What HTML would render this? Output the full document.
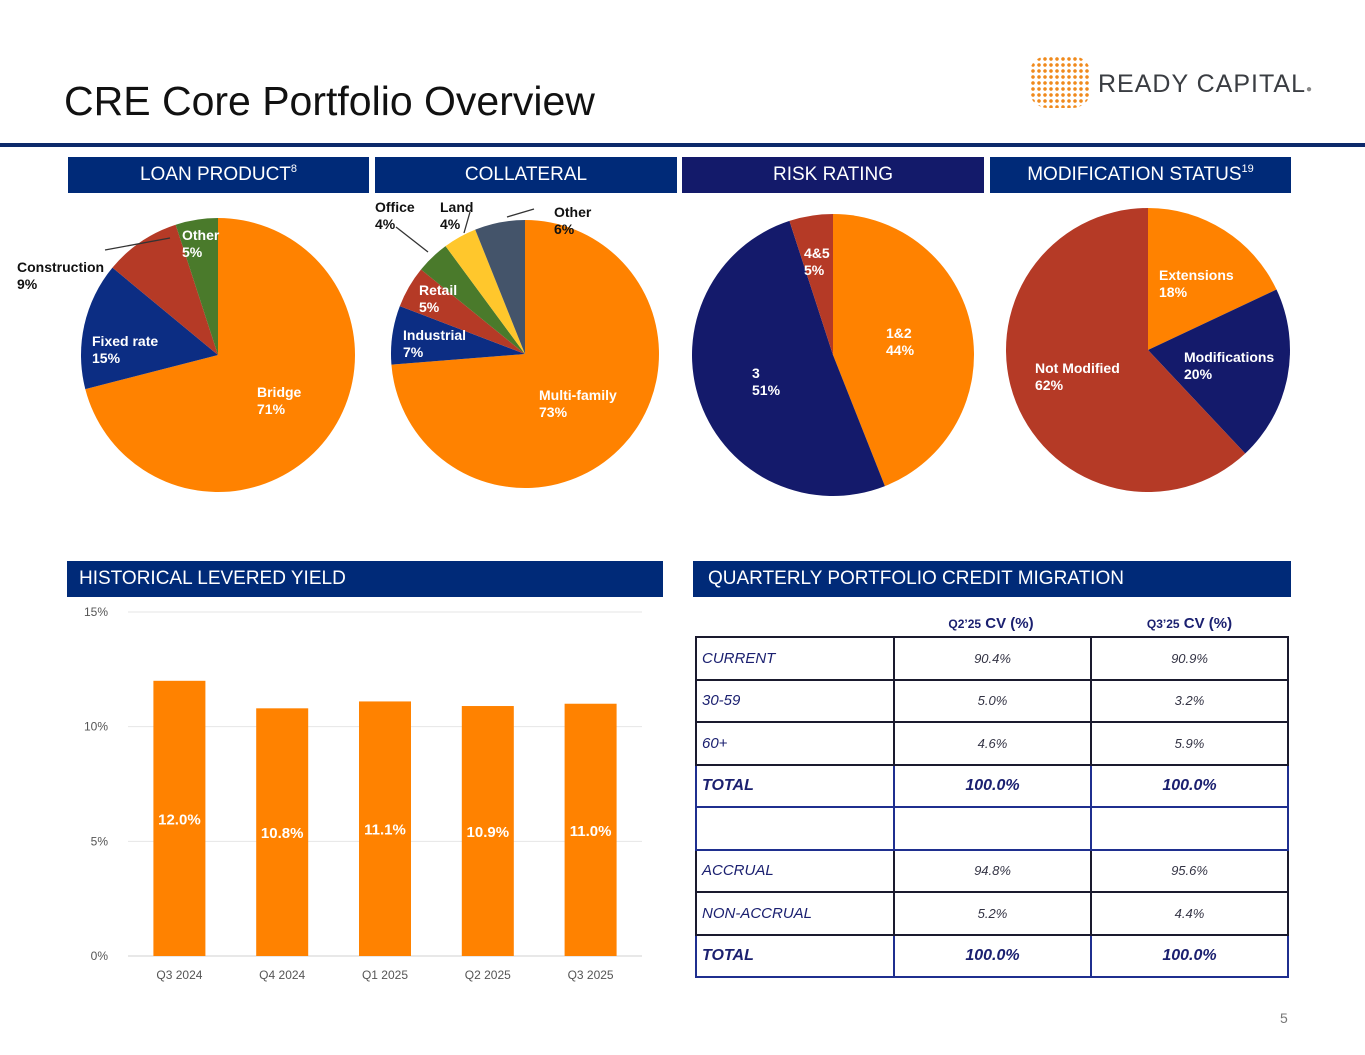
<!DOCTYPE html>
<html><head><meta charset="utf-8"><style>
body{margin:0;width:1365px;height:1055px;background:#fff;font-family:"Liberation Sans",Arial,sans-serif;position:relative;overflow:hidden}
.hdr{position:absolute;height:36px;color:#fff;font-size:19px;line-height:36px;background:#002a78}
.hdr sup{font-size:11px;line-height:0;vertical-align:8px}
.c{text-align:center}
table{border-collapse:collapse;position:absolute;left:695px;top:636px;width:594px}
tr{height:42.5px}
td{border:2px solid #1a1a2e;font-style:italic;color:#1b2070;font-size:15px;padding:0 5px}
td.v{text-align:center;font-size:13px;color:#334}
tr.t td{font-weight:bold;font-size:16px;color:#1b2070;border-color:#1f2f8f}
</style></head><body>
<div style="position:absolute;left:64px;top:78px;font-size:41px;color:#111">CRE Core Portfolio Overview</div>
<div style="position:absolute;left:1030px;top:56px;width:60px;height:52px;background:radial-gradient(circle,#f08a1c 1.6px,transparent 2px) 0 0/6px 6px;border-radius:30%"></div>
<div style="position:absolute;left:1098px;top:70px;font-size:25px;color:#3a3d42;letter-spacing:1px">READY CAPITAL<span style="font-size:10px;color:#888">●</span></div>
<div style="position:absolute;left:0;top:143px;width:1365px;height:4px;background:#0d2a6b"></div>
<div class="hdr c" style="left:68px;top:157px;width:301px">LOAN PRODUCT<sup>8</sup></div>
<div class="hdr c" style="left:375px;top:157px;width:302px">COLLATERAL</div>
<div class="hdr c" style="left:682px;top:157px;width:302px;background:#131a6a">RISK RATING</div>
<div class="hdr c" style="left:990px;top:157px;width:301px">MODIFICATION STATUS<sup>19</sup></div>
<div class="hdr" style="left:67px;top:561px;width:584px;padding-left:12px">HISTORICAL LEVERED YIELD</div>
<div class="hdr" style="left:693px;top:561px;width:583px;padding-left:15px">QUARTERLY PORTFOLIO CREDIT MIGRATION</div>
<svg id="pies" width="1365" height="1055" style="position:absolute;left:0;top:0" font-family="Liberation Sans, Arial, sans-serif" font-weight="bold" font-size="14"></svg>
<svg id="bars" width="1365" height="1055" style="position:absolute;left:0;top:0" font-family="Liberation Sans, Arial, sans-serif"></svg>
<div style="position:absolute;left:892px;top:615px;width:198px;text-align:center;font-weight:bold;color:#1b2070;font-size:15px"><span style="font-size:12px">Q2’25</span> CV (%)</div>
<div style="position:absolute;left:1090px;top:615px;width:199px;text-align:center;font-weight:bold;color:#1b2070;font-size:15px"><span style="font-size:12px">Q3’25</span> CV (%)</div>
<table>
<tr><td style="width:186px">CURRENT</td><td class="v">90.4%</td><td class="v">90.9%</td></tr>
<tr><td>30-59</td><td class="v">5.0%</td><td class="v">3.2%</td></tr>
<tr><td>60+</td><td class="v">4.6%</td><td class="v">5.9%</td></tr>
<tr class="t"><td>TOTAL</td><td class="v" style="font-size:16px;color:#1b2070">100.0%</td><td class="v" style="font-size:16px;color:#1b2070">100.0%</td></tr>
<tr class="t"><td></td><td></td><td></td></tr>
<tr><td>ACCRUAL</td><td class="v">94.8%</td><td class="v">95.6%</td></tr>
<tr><td>NON-ACCRUAL</td><td class="v">5.2%</td><td class="v">4.4%</td></tr>
<tr class="t"><td>TOTAL</td><td class="v" style="font-size:16px;color:#1b2070">100.0%</td><td class="v" style="font-size:16px;color:#1b2070">100.0%</td></tr>
</table>
<div style="position:absolute;left:1280px;top:1010px;font-size:14px;color:#777">5</div>
<script>
const loanCats=["Bridge","Fixed rate","Construction","Other"];
const loanVals=[71,15,9,5];
const collCats=["Multi-family","Industrial","Retail","Office","Land","Other"];
const collVals=[73,7,5,4,4,6];
const riskCats=["1&2","3","4&5"];
const riskVals=[44,51,5];
const modCats=["Extensions","Modifications","Not Modified"];
const modVals=[18,20,62];
const yieldCats=["Q3 2024","Q4 2024","Q1 2025","Q2 2025","Q3 2025"];
const yieldVals=[12.0,10.8,11.1,10.9,11.0];
const yTicks=[0,5,10,15];
const NS="http://www.w3.org/2000/svg";
function mk(p,t,a){const e=document.createElementNS(NS,t);for(const k in a)e.setAttribute(k,a[k]);p.appendChild(e);return e;}
const pies=document.getElementById('pies');
const sliceLayer=mk(pies,'g',{});
const labelLayer=mk(pies,'g',{});
function pie(name,cats,vals,cx,cy,r,colors,labels){
  const tot=vals.reduce((a,b)=>a+b,0);let a0=0;
  vals.forEach((v,i)=>{
    const a1=a0+v/tot*2*Math.PI;
    const x0=cx+r*Math.sin(a0),y0=cy-r*Math.cos(a0),x1=cx+r*Math.sin(a1),y1=cy-r*Math.cos(a1);
    const p=mk(sliceLayer,'path',{d:`M${cx},${cy}L${x0},${y0}A${r},${r} 0 ${a1-a0>Math.PI?1:0} 1 ${x1},${y1}Z`,fill:colors[i]});
    
    
    const L=labels[i];
    const t=mk(labelLayer,'text',{x:L[0],y:L[1],fill:L[2]});
    
    
    const s1=mk(t,'tspan',{x:L[0]});s1.textContent=cats[i];
    const s2=mk(t,'tspan',{x:L[0],dy:17});s2.textContent=Math.round(v)+'%';
    a0=a1;
  });
}
const O="#ff8200",N="#0c2d83",R="#b53a26",G="#4a7a2b",Y="#ffc72c",S="#44546a",D="#141a6b",W="#fff",K="#111";
pie('loan',loanCats,loanVals,218,355,137,[O,N,R,G],[[257,397,W],[92,346,W],[17,272,K],[182,240,W]]);
pie('collateral',collCats,collVals,525,354,134,[O,N,R,G,Y,S],[[539,400,W],[403,340,W],[419,295,W],[375,212,K],[440,212,K],[554,217,K]]);
pie('risk',riskCats,riskVals,833,355,141,[O,D,R],[[886,338,W],[752,378,W],[804,258,W]]);
pie('mod',modCats,modVals,1148,350,142,[O,D,R],[[1159,280,W],[1184,362,W],[1035,373,W]]);
[[105,250,170,238],[396,227,428,252],[464,233,470,212],[507,217,534,209]].forEach(l=>{
  const e=mk(pies,'line',{x1:l[0],y1:l[1],x2:l[2],y2:l[3],stroke:'#333','stroke-width':1.3});
  
  
});
const bars=document.getElementById('bars');
const X0=128,X1=642,Y0=956,Y15=612;
const yS=v=>Y0-(v/15)*(Y0-Y15);
const bw=(X1-X0)/yieldCats.length;
const xS=i=>X0+bw*(i+0.5);
yTicks.forEach(t=>{
  const g=mk(bars,'line',{x1:X0,x2:X1,y1:yS(t),y2:yS(t),stroke:t?'#e6e6e6':'#d0d0d0'});
  
  
  const tx=mk(bars,'text',{x:108,y:yS(t)+4,'text-anchor':'end','font-size':12,fill:'#555'});
  
  
  tx.textContent=t+'%';
});
yieldVals.forEach((v,i)=>{
  const b=mk(bars,'rect',{x:xS(i)-26,y:yS(v),width:52,height:Y0-yS(v),fill:'#ff8200'});
  
  
  const l=mk(bars,'text',{x:xS(i),y:yS(v)+(Y0-yS(v))*0.5+6,'text-anchor':'middle','font-size':15,'font-weight':'bold',fill:'#fff'});
  
  
  l.textContent=v.toFixed(1)+'%';
  const c=mk(bars,'text',{x:xS(i),y:979,'text-anchor':'middle','font-size':12,fill:'#555'});
  
  
  c.textContent=yieldCats[i];
});
</script>
</body></html>
